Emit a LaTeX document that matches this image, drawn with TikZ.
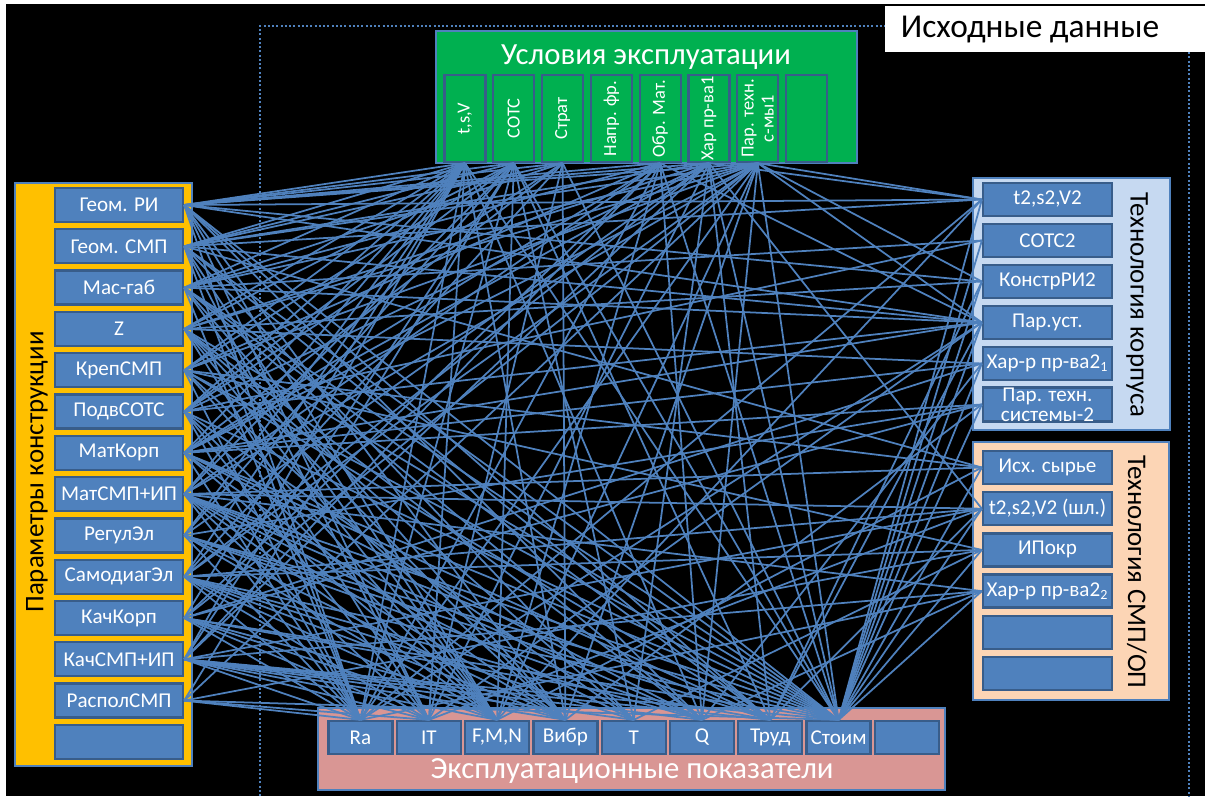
\documentclass[tikz,border=0pt]{standalone}
\usepackage{fontspec}
\setmainfont{Carlito}
\definecolor{boxBlue}{HTML}{4F81BD}
\definecolor{boxEdge}{HTML}{385D8A}
\definecolor{usloviya}{HTML}{00B050}
\definecolor{konstr}{HTML}{FFC000}
\definecolor{korpus}{HTML}{C6D9F1}
\definecolor{smp}{HTML}{FCD5B5}
\definecolor{pokaz}{HTML}{D99694}

\begin{document}
\begin{tikzpicture}[
  x=0.2mm, y=-0.2mm,
  panel/.style={
    draw=boxBlue,
    line width=0.4mm
  },
  panel title/.style={
    inner sep=0pt,
    font=\fontsize{17.5}{20}\selectfont
  },
  side title/.style={
    panel title,
    font=\fontsize{15.3}{18}\selectfont
  },
  item box/.style={
    draw=boxEdge,
    fill=boxBlue,
    line width=0.45mm,
    text=white,
    inner sep=0pt,
    align=center,
    font=\fontsize{12}{11.5}\selectfont
  },
  param box/.style={item box, minimum width=25.6mm, minimum height=6.8mm},
  tech box/.style={item box, minimum width=25.8mm, minimum height=6.6mm},
  cond box/.style={
    item box,
    fill=usloviya,
    minimum width=8.2mm,
    minimum height=17.4mm,
    font=\fontsize{10.5}{10.5}\selectfont
  },
  index box/.style={item box, minimum width=12.8mm, minimum height=6.6mm},
  link line/.style={
    draw=boxBlue,
    line width=1pt
  },
  frame line/.style={
    draw=boxBlue,
    line width=0.4mm,
    dash pattern=on 0.4mm off 0.45mm
  }
]
\fill[white] (0,0) rectangle (1205,796);
\fill[black] (6,4) rectangle (1205,796);
\useasboundingbox (0,0) rectangle (1205,796);

\draw[frame line] (260,796) -- (260,26) -- (885,26);
\draw[frame line] (1189,52) -- (1189,796);
\fill[white] (885,6) rectangle (1205,52);
\node[panel title, font=\fontsize{19}{22}\selectfont] (ishod) at (1030,30) {Исходные данные};

% usloviya
\draw[panel, fill=usloviya] (436,31) rectangle (857,163);
\node[panel title, text=white] (uslTitle) at (646,57) {Условия эксплуатации};
\foreach \t [count=\i] in {{t,s,V},СОТС,Страт,Напр. фр.,Обр. Мат.,Хар пр-ва1,{\shortstack{Пар. техн.\\с-мы1}},{}} {
  \node[cond box] (u\i) at ({416.2+48.8*\i},118.5) {\rotatebox{90}{\t}};
}

% parametry
\draw[panel, fill=konstr] (15,183) rectangle (192,766);
\node[side title, rotate=90] (konTitle) at (37,472) {Параметры конструкции};
\foreach \t [count=\i] in {Геом. РИ,Геом. СМП,Мас-габ,Z,КрепСМП,ПодвСОТС,МатКорп,МатСМП+ИП,РегулЭл,СамодиагЭл,КачКорп,КачСМП+ИП,РасполСМП,{}} {
  \node[param box] (p\i) at (119,{163.7+41.3*\i}) {\t};
}

% tekhnologiya
\draw[panel, fill=korpus] (973,178) rectangle (1170,430);
\node[side title, rotate=-90] (korTitle) at (1137,305) {Технология корпуса};
\foreach \t [count=\i] in {{t2,s2,V2},СОТС2,КонстрРИ2,Пар.уст.,Хар-р пр-ва2\textsubscript{1},{Пар. техн.\\системы-2}} {
  \node[tech box] (k\i) at (1047.5,{158.5+41*\i}) {\t};
}
\draw[panel, fill=smp] (973,442) rectangle (1169,700);
\node[side title, rotate=-90] (smpTitle) at (1137,572) {Технология СМП/ОП};
\foreach \t [count=\i] in {Исх. сырье,{t2,s2,V2 (шл.)},ИПокр,Хар-р пр-ва2\textsubscript{2},{},{}} {
  \node[tech box] (s\i) at (1047.5,{426.3+41.2*\i}) {\t};
}

% pokazateli
\draw[panel, fill=pokaz] (318,708) rectangle (945,790);
\node[panel title, text=white] (pokTitle) at (632,771) {Эксплуатационные показатели};
\foreach \t [count=\i] in {Ra,IT,{F,M,N},Вибр,T,Q,Труд,Стоим,{}} {
  \node[index box] (e\i) at ({292.2+68.3*\i},737.5) {\t};
}

% svyazi
\foreach \i/\us/\es/\rs in {
  1/{1,2,3,5,6,7}/{1,2,3,4,6,7,8}/{k1,k3,k4},
  2/{1,2,3,6,7}/{1,2,3,5,7,8}/{k1,k4,s1},
  3/{1,3,5,7}/{1,3,4,6,7,8}/{k2,k4},
  4/{1,2,6,7}/{2,3,4,5,6,8}/{k3,k5},
  5/{1,2,5,7}/{1,3,4,7,8}/{s1,s3},
  6/{1,2,3,6}/{1,2,3,5,8}/{k2,k4},
  7/{1,3,5,6,7}/{1,3,4,6,7,8}/{k4,k5,k6},
  8/{1,2,5,7}/{1,2,3,4,5,6,7,8}/{s1,s2,s4},
  9/{1,2,6}/{1,3,4,6,7,8}/{k6},
  10/{1,3,6,7}/{1,2,3,4,5,6,8}/{s2,s3},
  11/{1,5,7}/{1,2,3,4,7,8}/{k5,k6},
  12/{1,2,5,6}/{1,2,3,4,5,6,7,8}/{s2,s4},
  13/{2,7}/{1,2,8}/{s3}} {
  \foreach \j in \us {\draw[link line] (p\i.east) -- (u\j.south);}
  \foreach \j in \es {\draw[link line] (p\i.east) -- (e\j.north);}
  \foreach \r in \rs {\draw[link line] (p\i.east) -- (\r.west);}
}
\foreach \j/\es in {1/{1,2,4,6,8},2/{1,3,5,7,8},3/{2,4,8},5/{1,3,6,8},6/{2,5,7,8},7/{1,3,4,6,8}} {
  \foreach \k in \es {\draw[link line] (u\j.south) -- (e\k.north);}
}
\foreach \j/\r in {7/k1,7/k3,7/k4,6/k1,6/s2,5/k4} {
  \draw[link line] (u\j.south) -- (\r.west);
}
\foreach \r/\es in {k1/{1,3,8},k2/{8},k3/{7,8},k4/{1,2,7,8},k5/{6,8},k6/{4,8},s1/{3,8},s2/{2,7,8},s3/{5,8},s4/{1,6,8}} {
  \foreach \k in \es {\draw[link line] (\r.west) -- (e\k.north);}
}
%\draw[link line] (u4.south) -- (e5.north);
\end{tikzpicture}
\end{document}
